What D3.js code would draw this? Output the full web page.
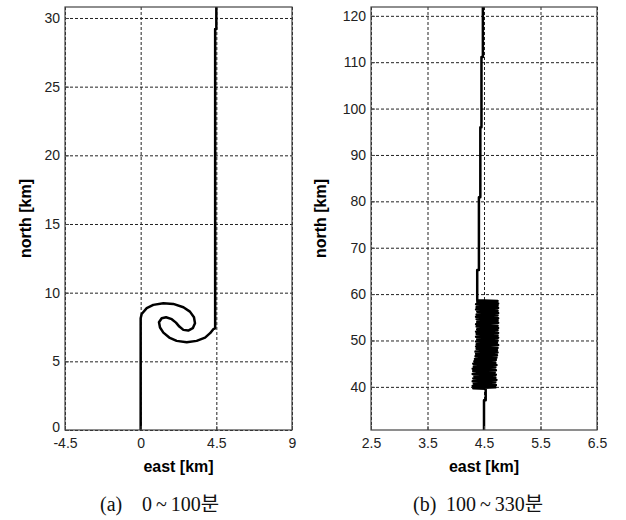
<!DOCTYPE html>
<html>
<head>
<meta charset="utf-8">
<script src="https://cdn.jsdelivr.net/npm/d3@7"></script>
<style>
  body { margin: 0; background: #fff; }
  .tick text { font-family: "Liberation Sans", Arial, sans-serif; font-size: 14px; fill: #222; }
  .axis-label { font-family: "Liberation Sans", Arial, sans-serif; font-size: 16px; font-weight: bold; fill: #000; }
  .caption { font-family: "Liberation Serif", "Noto Sans CJK KR", serif; font-size: 20px; fill: #111; }
</style>
</head>
<body>
<div id="chart"></div>
<script>
// panel (a) 0~100 min : track in east / north [km]
var eastA = [0, 0, 0.06, 0.36, 0.75, 1.35, 1.94, 2.54, 2.93, 3.17, 3.23, 3.10, 2.83, 2.54, 2.30, 2.10, 1.85,
  1.51, 1.25, 1.09, 1.15, 1.35, 1.70, 2.14, 2.74, 3.33, 3.83, 4.13, 4.32, 4.43, 4.43, 4.50, 4.50];
var northA = [0, 8.14, 8.45, 8.87, 9.11, 9.23, 9.18, 8.94, 8.62, 8.21, 7.78, 7.41, 7.24, 7.29, 7.53, 7.82, 8.07,
  8.21, 8.14, 7.85, 7.46, 7.09, 6.73, 6.49, 6.39, 6.49, 6.73, 7.05, 7.34, 7.40, 29.2, 29.2, 30.8];

// panel (b) 100~330 min
var eastB1 = [4.50, 4.50, 4.53, 4.53];
var northB1 = [30.7, 37.1, 37.1, 39.6];
// weaving part between 40 and 58 km
var zigEast = [4.31, 4.70, 4.30, 4.71, 4.32, 4.70, 4.30, 4.72, 4.31, 4.70, 4.33, 4.71, 4.30, 4.69, 4.31, 4.71,
  4.30, 4.70, 4.32, 4.72, 4.31, 4.70, 4.33, 4.71, 4.34, 4.72, 4.35, 4.73, 4.36, 4.74, 4.35, 4.73,
  4.37, 4.74, 4.36, 4.75, 4.37, 4.73, 4.36, 4.74, 4.38, 4.75, 4.36, 4.74, 4.37, 4.75, 4.36, 4.74,
  4.38, 4.75, 4.37, 4.74, 4.36, 4.75, 4.38, 4.74, 4.37, 4.75, 4.36, 4.74, 4.37, 4.75, 4.38, 4.74,
  4.36, 4.75, 4.37, 4.74, 4.36, 4.75, 4.38, 4.74];
var zigNorth = [39.7, 39.9, 40.2, 40.4, 40.7, 41.0, 41.2, 41.5, 41.8, 42.0, 42.3, 42.6, 42.8, 43.1, 43.4, 43.6,
  43.9, 44.2, 44.4, 44.7, 45.0, 45.2, 45.5, 45.8, 46.0, 46.3, 46.6, 46.8, 47.1, 47.4, 47.6, 47.9,
  48.2, 48.4, 48.7, 49.0, 49.2, 49.5, 49.8, 50.0, 50.3, 50.6, 50.8, 51.1, 51.4, 51.6, 51.9, 52.2,
  52.4, 52.7, 53.0, 53.2, 53.5, 53.8, 54.0, 54.3, 54.6, 54.8, 55.1, 55.4, 55.6, 55.9, 56.2, 56.4,
  56.7, 57.0, 57.2, 57.5, 57.8, 58.0, 58.3, 58.5];
var eastB2 = [4.38, 4.38, 4.41, 4.41, 4.435, 4.435, 4.455, 4.455, 4.48, 4.48];
var northB2 = [58.7, 65.2, 65.2, 80.9, 80.9, 96.0, 96.0, 111.1, 111.1, 121.9];

var xTicksA = [-4.5, 0, 4.5, 9];
var yTicksA = [0, 5, 10, 15, 20, 25, 30];
var xTicksB = [2.5, 3.5, 4.5, 5.5, 6.5];
var yTicksB = [40, 50, 60, 70, 80, 90, 100, 110, 120];

var svgWidth = 626;
var svgHeight = 520;

var svg = d3.select("#chart")
  .append("svg")
  .attr("width", svgWidth)
  .attr("height", svgHeight);

// draw one matlab-style panel
function drawPanel(opt) {
  var width = opt.x1 - opt.x0;
  var height = opt.y1 - opt.y0;
  var g = svg.append("g")
    .attr("transform", `translate(${opt.x0}, ${opt.y0})`);

  var xScale = d3.scaleLinear().domain(opt.xDomain).range([0, width]);
  var yScale = d3.scaleLinear().domain(opt.yDomain).range([height, 0]);

  // grid
  g.append("g")
    .attr("transform", `translate(0, ${height})`)
    .call(d3.axisBottom(xScale).tickValues(opt.xTicks).tickSize(-height).tickFormat(""))
    .call(a => a.select(".domain").remove())
    .selectAll("line")
    .attr("stroke", "#222")
    .attr("stroke-dasharray", "3,2");
  g.append("g")
    .call(d3.axisLeft(yScale).tickValues(opt.yTicks).tickSize(-width).tickFormat(""))
    .call(a => a.select(".domain").remove())
    .selectAll("line")
    .attr("stroke", "#222")
    .attr("stroke-dasharray", "3,2");

  // track
  var pts = opt.east.map((e, i) => [e, opt.north[i]]);
  var line = d3.line()
    .x(d => xScale(d[0]))
    .y(d => yScale(d[1]));
  g.append("path")
    .datum(pts)
    .attr("d", line)
    .attr("fill", "none")
    .attr("stroke", "#000")
    .attr("stroke-width", 2.5)
    .attr("stroke-linejoin", "round");

  // box
  g.append("rect")
    .attr("width", width)
    .attr("height", height)
    .attr("fill", "none")
    .attr("stroke", "#444")
    .attr("stroke-width", 1.2);

  // axes with inward ticks
  var xAxis = g.append("g")
    .attr("transform", `translate(0, ${height})`)
    .call(d3.axisBottom(xScale).tickValues(opt.xTicks).tickSizeInner(-4).tickSizeOuter(0)
      .tickPadding(8).tickFormat(d => String(d)));
  xAxis.select(".domain").remove();
  xAxis.selectAll("line").attr("stroke", "#444");

  var yAxis = g.append("g")
    .call(d3.axisLeft(yScale).tickValues(opt.yTicks).tickSizeInner(-4).tickSizeOuter(0)
      .tickPadding(5).tickFormat(d => String(d)));
  yAxis.select(".domain").remove();
  yAxis.selectAll("line").attr("stroke", "#444");
  // lift the bottom-most y label a little so it clears the x labels
  yAxis.selectAll(".tick text").filter(d => d === opt.yTicks[0] && d === opt.yDomain[0])
    .attr("dy", "0.1em");

  // labels
  g.append("text")
    .attr("class", "axis-label")
    .attr("x", width / 2)
    .attr("y", 464 - opt.y0)
    .attr("text-anchor", "middle")
    .attr("dy", "0.5em")
    .text("east [km]");

  g.append("text")
    .attr("class", "axis-label")
    .attr("transform", "rotate(-90)")
    .attr("x", 0 - height / 2)
    .attr("y", opt.yLabelX - opt.x0)
    .attr("text-anchor", "middle")
    .text("north [km]");

  // caption: "(x)" then the time range, tilde given some room like the original font
  var cap = svg.append("text")
    .attr("class", "caption")
    .attr("y", 511);
  cap.append("tspan").attr("x", opt.capX0).text(opt.capTag);
  cap.append("tspan").attr("x", opt.capX1).text(opt.capFrom);
  cap.append("tspan").attr("dx", 4).text("~");
  cap.append("tspan").attr("dx", 4).text(opt.capTo);
}

drawPanel({
  x0: 65, x1: 292, y0: 7, y1: 430,
  xDomain: [-4.5, 9], yDomain: [0, 30.8],
  xTicks: xTicksA, yTicks: yTicksA,
  east: eastA, north: northA,
  yLabelX: 31,
  capTag: "(a)", capFrom: "0", capTo: "100분", capX0: 100, capX1: 142
});

drawPanel({
  x0: 371, x1: 597, y0: 7, y1: 430,
  xDomain: [2.5, 6.5], yDomain: [30.7, 121.9],
  xTicks: xTicksB, yTicks: yTicksB,
  east: eastB1.concat(zigEast, eastB2), north: northB1.concat(zigNorth, northB2),
  yLabelX: 326,
  capTag: "(b)", capFrom: "100", capTo: "330분", capX0: 413, capX1: 446
});
</script>
</body>
</html>
